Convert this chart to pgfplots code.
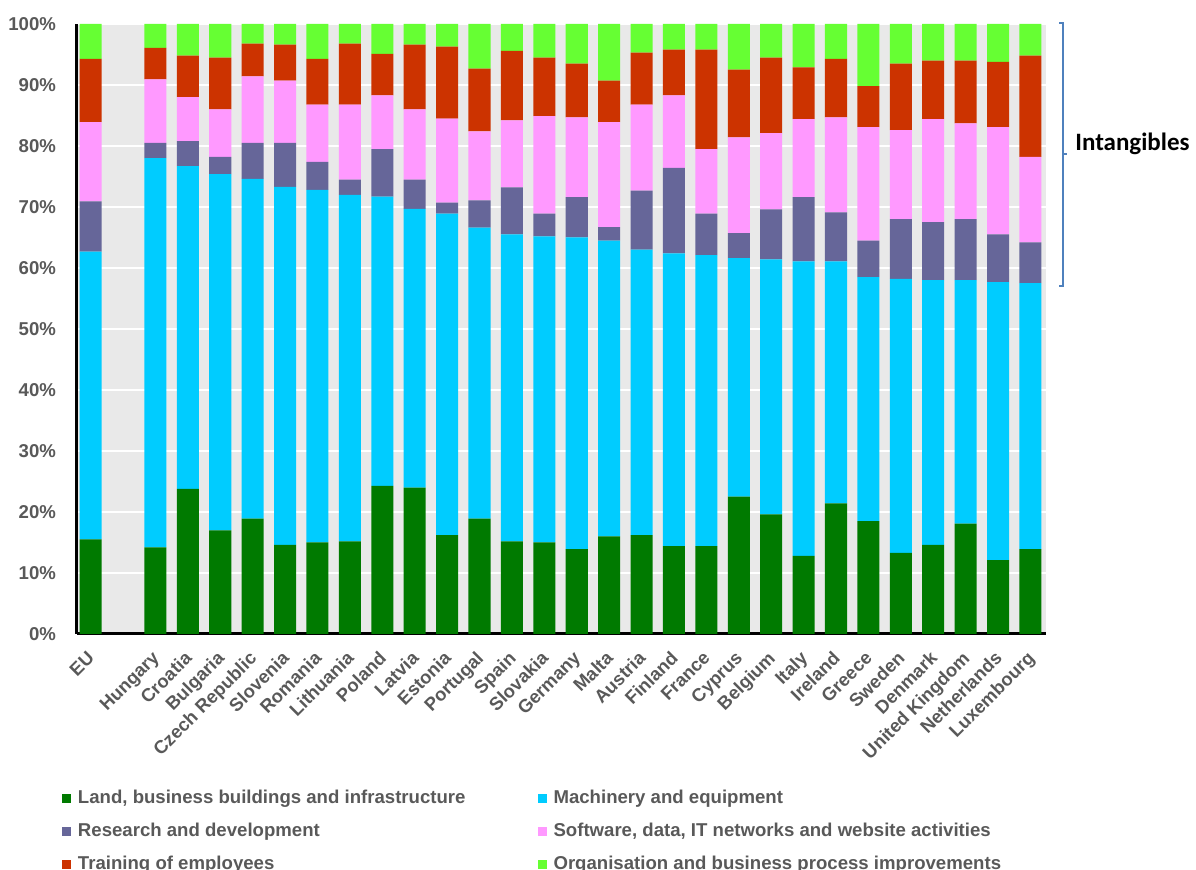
\documentclass[border=0pt]{standalone}
\usepackage{fontspec}
\setmainfont{Liberation Sans}
\newfontfamily\carlito{Carlito}
\usepackage{pgfplots}
\usepackage{pgfplotstable}
\pgfplotsset{compat=1.18}
\definecolor{cLand}{RGB}{0,122,0}
\definecolor{cMach}{RGB}{0,204,255}
\definecolor{cRD}{RGB}{102,102,153}
\definecolor{cSoft}{RGB}{255,153,255}
\definecolor{cTrain}{RGB}{204,51,0}
\definecolor{cOrg}{RGB}{102,255,51}
\definecolor{bggray}{RGB}{233,233,233}
\definecolor{labelgray}{RGB}{89,89,89}
\definecolor{brack}{RGB}{79,129,189}
\pgfplotsset{sqlegend/.style={legend image code/.code={\fill[##1] (0pt,-2.25pt) rectangle (4.5pt,2.25pt);}}}

\pgfplotstableread{
x  L    M    R    S    T    O
0  15.5 47.2 8.2  13.0 10.4 5.7
2  14.2 63.8 2.5  10.4 5.2  3.9
3  23.8 52.9 4.1  7.2  6.8  5.2
4  17.0 58.4 2.8  7.8  8.5  5.5
5  18.9 55.7 5.9  10.9 5.4  3.2
6  14.6 58.7 7.2  10.2 5.9  3.4
7  15.0 57.8 4.6  9.4  7.5  5.7
8  15.2 56.8 2.5  12.3 10.0 3.2
9  24.3 47.4 7.8  8.8  6.8  4.9
10 24.0 45.7 4.8  11.5 10.6 3.4
11 16.2 52.7 1.8  13.8 11.8 3.7
12 18.9 47.7 4.5  11.3 10.3 7.3
13 15.2 50.3 7.7  11.0 11.4 4.4
14 15.0 50.2 3.7  16.0 9.6  5.5
15 13.9 51.1 6.6  13.1 8.8  6.5
16 16.0 48.5 2.2  17.2 6.8  9.3
17 16.2 46.8 9.7  14.1 8.5  4.7
18 14.4 48.0 14.0 11.9 7.5  4.2
19 14.4 47.7 6.8  10.6 16.3 4.2
20 22.5 39.1 4.1  15.7 11.1 7.5
21 19.6 41.8 8.2  12.5 12.4 5.5
22 12.8 48.3 10.5 12.8 8.5  7.1
23 21.4 39.7 8.0  15.6 9.6  5.7
24 18.5 40.0 6.0  18.6 6.7  10.2
25 13.3 44.9 9.8  14.6 10.9 6.5
26 14.6 43.4 9.5  16.9 9.6  6.0
27 18.1 39.9 10.0 15.7 10.3 6.0
28 12.1 45.6 7.8  17.6 10.7 6.2
29 13.9 43.6 6.7  14.0 16.6 5.2
}\datatable

\begin{document}
\begin{tikzpicture}
\path[use as bounding box] (0pt,0pt) rectangle (598pt,435pt);
\begin{axis}[
  at={(38.5pt,118pt)}, anchor=south west,
  scale only axis, width=484.5pt, height=305pt,
  ybar stacked, bar width=0.68,
  xmin=-0.42, xmax=29.48, ymin=0, ymax=100,
  axis x line*=bottom, axis y line*=left,
  axis line style={black, line width=1.5pt},
  axis background/.style={fill=bggray},
  major tick length=0pt,
  ymajorgrids, grid style={white, line width=0.8pt},
  xtick={0,2,3,4,5,6,7,8,9,10,11,12,13,14,15,16,17,18,19,20,21,22,23,24,25,26,27,28,29},
  xticklabels={EU,Hungary,Croatia,Bulgaria,Czech Republic,Slovenia,Romania,Lithuania,Poland,Latvia,Estonia,Portugal,Spain,Slovakia,Germany,Malta,Austria,Finland,France,Cyprus,Belgium,Italy,Ireland,Greece,Sweden,Denmark,United Kingdom,Netherlands,Luxembourg},
  ytick={0,10,20,30,40,50,60,70,80,90,100},
  yticklabels={0\%,10\%,20\%,30\%,40\%,50\%,60\%,70\%,80\%,90\%,100\%},
  yticklabel style={font=\bfseries\fontsize{9.3}{10}\selectfont, text=labelgray, xshift=-7pt},
  xticklabel style={rotate=45, anchor=north east, font=\bfseries\fontsize{9.2}{10}\selectfont, text=labelgray, inner sep=1pt, yshift=-3pt, xshift=-6.1pt},
  legend columns=2,
  legend cell align=left,
  legend style={at={(-0.0159,-0.2521)}, anchor=north west, draw=none, fill=none, inner sep=0pt,
    font=\bfseries\fontsize{9.3}{10}\selectfont, text=labelgray,
    nodes={inner sep=1pt, text height=6.5pt, text depth=1.8pt},
    row sep=6.2pt,
    /tikz/every odd column/.append style={column sep=2.5pt},
    /tikz/every even column/.append style={column sep=35pt}},
]
\addplot[fill=cLand, draw=none, sqlegend] table[x=x,y=L]{\datatable};
\addlegendentry{Land, business buildings and infrastructure}
\addplot[fill=cMach, draw=none, sqlegend] table[x=x,y=M]{\datatable};
\addlegendentry{Machinery and equipment}
\addplot[fill=cRD, draw=none, sqlegend] table[x=x,y=R]{\datatable};
\addlegendentry{Research and development}
\addplot[fill=cSoft, draw=none, sqlegend] table[x=x,y=S]{\datatable};
\addlegendentry{Software, data, IT networks and website activities}
\addplot[fill=cTrain, draw=none, sqlegend] table[x=x,y=T]{\datatable};
\addlegendentry{Training of employees}
\addplot[fill=cOrg, draw=none, sqlegend] table[x=x,y=O]{\datatable};
\addlegendentry{Organisation and business process improvements}
\end{axis}
\draw[brack, line width=1pt] (529.5pt,423.5pt) -- (531.5pt,423.5pt) -- (531.5pt,292pt) -- (529.5pt,292pt);
\draw[brack, line width=1pt] (531.5pt,358pt) -- (533.5pt,358pt);
\node[anchor=base west, inner sep=0pt, font=\carlito\bfseries\fontsize{12.5}{14}\selectfont] at (537.5pt,359.5pt) {Intangibles};
\end{tikzpicture}
\end{document}
